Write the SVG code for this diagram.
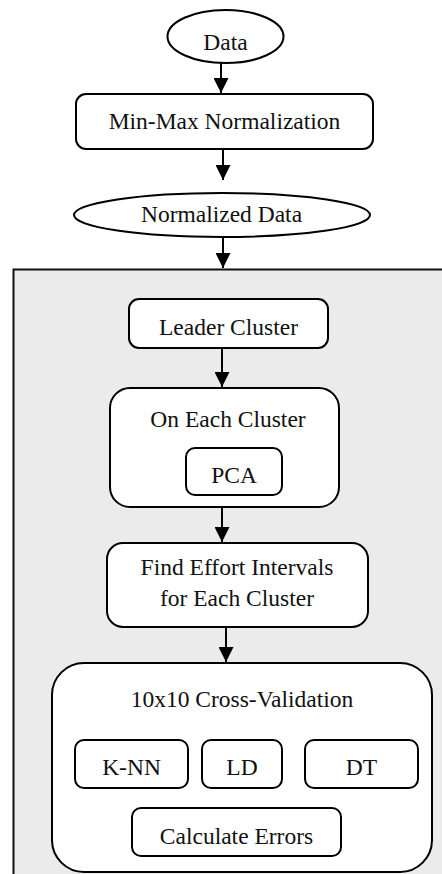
<svg xmlns="http://www.w3.org/2000/svg" width="442" height="874" viewBox="0 0 442 874">
  <defs>
    <marker id="arrow" viewBox="0 0 15 15" refX="15" refY="7.5" markerWidth="15" markerHeight="15" markerUnits="userSpaceOnUse" orient="auto">
      <path d="M0,0 L15,7.5 L0,15 Z" fill="#000"/>
    </marker>
  </defs>
  <style>
    .shape { fill: #fff; stroke: #000; stroke-width: 2; }
    .panel { fill: #ebebeb; stroke: #111; stroke-width: 2; }
    .label { font-family: "Liberation Serif", "Times New Roman", serif; font-size: 23.5px; fill: #111; text-anchor: middle; }
    .edge { stroke: #000; stroke-width: 2; fill: none; marker-end: url(#arrow); }
  </style>
  <rect width="442" height="874" fill="#fff"/>

  <!-- processing panel (extends past the right and bottom edges) -->
  <rect id="panel" class="panel" x="13.5" y="269.5" width="440" height="620"/>

  <g id="data">
    <ellipse class="shape" cx="225.5" cy="36.5" rx="58" ry="26.5"/>
    <text class="label" x="225.5" y="50">Data</text>
  </g>

  <g id="minmax">
    <rect class="shape" x="76" y="94" width="297" height="55" rx="10"/>
    <text class="label" x="224.5" y="129">Min-Max Normalization</text>
  </g>

  <g id="normalized">
    <ellipse class="shape" cx="222" cy="215" rx="148" ry="22"/>
    <text class="label" x="221.5" y="222">Normalized Data</text>
  </g>

  <g id="leader">
    <rect class="shape" x="129" y="299" width="199" height="49" rx="10"/>
    <text class="label" x="228.5" y="335">Leader Cluster</text>
  </g>

  <g id="each-cluster">
    <rect class="shape" x="110" y="388" width="229" height="119" rx="20"/>
    <text class="label" x="228" y="427">On Each Cluster</text>
  </g>

  <g id="pca">
    <rect class="shape" x="186" y="448" width="96" height="47" rx="9"/>
    <text class="label" x="234" y="483">PCA</text>
  </g>

  <g id="intervals">
    <rect class="shape" x="107" y="543" width="261" height="84" rx="16"/>
    <text class="label" x="237" y="575">Find Effort Intervals</text>
    <text class="label" x="237" y="606">for Each Cluster</text>
  </g>

  <g id="cross-validation">
    <rect class="shape" x="52" y="663" width="380" height="209" rx="32"/>
    <text class="label" x="242" y="707">10x10 Cross-Validation</text>
  </g>

  <g id="knn">
    <rect class="shape" x="75" y="740" width="113" height="48" rx="9"/>
    <text class="label" x="131.5" y="775">K-NN</text>
  </g>

  <g id="ld">
    <rect class="shape" x="202" y="740" width="80" height="48" rx="9"/>
    <text class="label" x="242" y="775">LD</text>
  </g>

  <g id="dt">
    <rect class="shape" x="305" y="740" width="113" height="48" rx="9"/>
    <text class="label" x="361.5" y="775">DT</text>
  </g>

  <g id="errors">
    <rect class="shape" x="132" y="808" width="209" height="48" rx="9"/>
    <text class="label" x="236.5" y="844">Calculate Errors</text>
  </g>

  <g id="connectors">
    <line class="edge" x1="221" y1="63" x2="221" y2="93"/>
    <line class="edge" x1="223" y1="149" x2="223" y2="180"/>
    <line class="edge" x1="223" y1="237" x2="223" y2="268"/>
    <line class="edge" x1="222" y1="348" x2="222" y2="387"/>
    <line class="edge" x1="222" y1="507" x2="222" y2="542"/>
    <line class="edge" x1="226" y1="627" x2="226" y2="662"/>
  </g>
</svg>
